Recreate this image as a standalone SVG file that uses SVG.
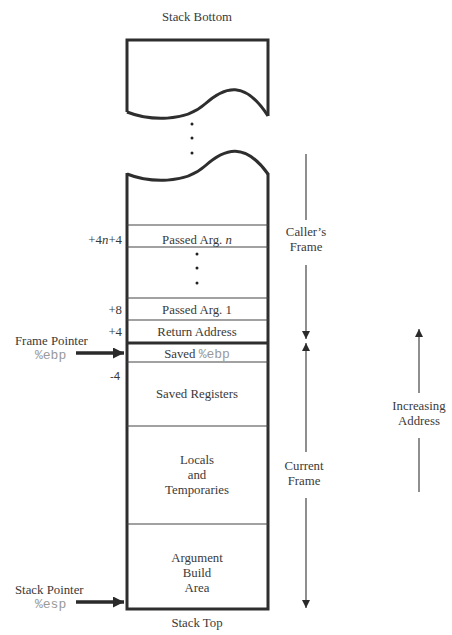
<svg xmlns="http://www.w3.org/2000/svg" width="452" height="635" viewBox="0 0 452 635">
<style>
text{font-family:"Liberation Serif","Times New Roman",serif;font-size:12.8px;fill:#3a3a3a}
.m{text-anchor:middle}
.e{text-anchor:end}
.mono{font-family:"Liberation Mono","Courier New",monospace;font-size:13px;fill:#999}
.box{fill:none;stroke:#2e2e2e;stroke-width:3}
.row{stroke:#444;stroke-width:1.2}
.ln{stroke:#444;stroke-width:1.2;fill:none}
.dot{fill:#222}
.ah{fill:#2a2a2a}
</style>
<defs>
<marker id="ah" viewBox="0 0 10 10" refX="10" refY="5" markerWidth="10" markerHeight="8" markerUnits="userSpaceOnUse" orient="auto"><path d="M0,0 L10,5 L0,10 z" class="ah"/></marker>
<marker id="ahB" viewBox="0 0 10 10" refX="10" refY="5" markerWidth="17" markerHeight="11" markerUnits="userSpaceOnUse" orient="auto"><path d="M0,0 L10,5 L0,10 z" class="ah"/></marker>
</defs>
<rect width="452" height="635" fill="#fff"/>
<text class="m" x="197" y="21">Stack Bottom</text>
<g id="stack-bottom">
<path class="box" d="M127,112 L127,40 L268,40 L268,116"/>
<path class="box" stroke-width="2.5" d="M127,112 C150,121 185,122 205,104 S245,80 268,116"/>
<circle class="dot" cx="192" cy="124" r="1.5"/>
<circle class="dot" cx="192" cy="138" r="1.5"/>
<circle class="dot" cx="192" cy="153" r="1.5"/>
</g>
<g id="stack">
<path class="box" stroke-width="2.5" d="M127,174 C150,183 185,184 205,166 S245,142 268,174"/>
<path class="box" d="M127,173 L127,609 L268,609 L268,173"/>
<line class="row" x1="127" y1="225" x2="268" y2="225"/>
<line class="row" x1="127" y1="247" x2="268" y2="247"/>
<line class="row" x1="127" y1="298" x2="268" y2="298"/>
<line class="row" x1="127" y1="320" x2="268" y2="320"/>
<line class="box" x1="127" y1="343" x2="268" y2="343"/>
<line class="row" x1="127" y1="362" x2="268" y2="362"/>
<line class="row" x1="127" y1="426" x2="268" y2="426"/>
<line class="row" x1="127" y1="524" x2="268" y2="524"/>
</g>
<g id="passed-arg-n">
<text class="m" x="197" y="244">Passed Arg.  <tspan font-style="italic">n</tspan></text>
<text class="e" x="122" y="244">+4<tspan font-style="italic">n</tspan>+4</text>
<circle class="dot" cx="197" cy="254" r="1.5"/>
<circle class="dot" cx="197" cy="268" r="1.5"/>
<circle class="dot" cx="197" cy="283" r="1.5"/>
</g>
<g id="passed-arg-1">
<text class="m" x="197" y="314">Passed Arg.  1</text>
<text class="e" x="122" y="314">+8</text>
</g>
<g id="return-address">
<text class="m" x="197" y="336">Return Address</text>
<text class="e" x="122" y="336">+4</text>
</g>
<g id="saved-ebp">
<text class="m" x="197" y="358">Saved <tspan class="mono">%ebp</tspan></text>
</g>
<g id="saved-registers">
<text x="110" y="380" style="font-family:'Liberation Sans',Arial,sans-serif;font-size:11.5px">-4</text>
<text class="m" x="197" y="398">Saved Registers</text>
</g>
<g id="locals">
<text class="m" x="197" y="464">Locals</text>
<text class="m" x="197" y="479">and</text>
<text class="m" x="197" y="494">Temporaries</text>
</g>
<g id="argument-build">
<text class="m" x="197" y="562">Argument</text>
<text class="m" x="197" y="577">Build</text>
<text class="m" x="197" y="592">Area</text>
</g>
<text class="m" x="197" y="627">Stack  Top</text>
<g id="frame-pointer">
<text x="15" y="345">Frame Pointer</text>
<text class="mono" x="35" y="359">%ebp</text>
</g>
<g id="stack-pointer">
<text x="15" y="594">Stack Pointer</text>
<text class="mono" x="35" y="608">%esp</text>
</g>
<g id="callers-frame">
<text class="m" x="306" y="236">Caller’s</text>
<text class="m" x="306" y="251">Frame</text>
</g>
<g id="current-frame">
<text class="m" x="304" y="470">Current</text>
<text class="m" x="304" y="485">Frame</text>
</g>
<g id="increasing-address">
<text class="m" x="419" y="410">Increasing</text>
<text class="m" x="419" y="425">Address</text>
</g>
<g id="connectors">
<line x1="76" y1="353" x2="124" y2="353" stroke="#2a2a2a" stroke-width="3.5" marker-end="url(#ahB)"/>
<line x1="76" y1="602" x2="124" y2="602" stroke="#2a2a2a" stroke-width="3.5" marker-end="url(#ahB)"/>
<line class="ln" x1="306" y1="154" x2="306" y2="220"/>
<line class="ln" x1="306" y1="265" x2="306" y2="339" marker-end="url(#ah)"/>
<line class="ln" x1="306" y1="452" x2="306" y2="343" marker-end="url(#ah)"/>
<line class="ln" x1="306" y1="498" x2="306" y2="608" marker-end="url(#ah)"/>
<line class="ln" x1="419" y1="393" x2="419" y2="329" marker-end="url(#ah)"/>
<line class="ln" x1="419" y1="438" x2="419" y2="492"/>
</g>
</svg>
